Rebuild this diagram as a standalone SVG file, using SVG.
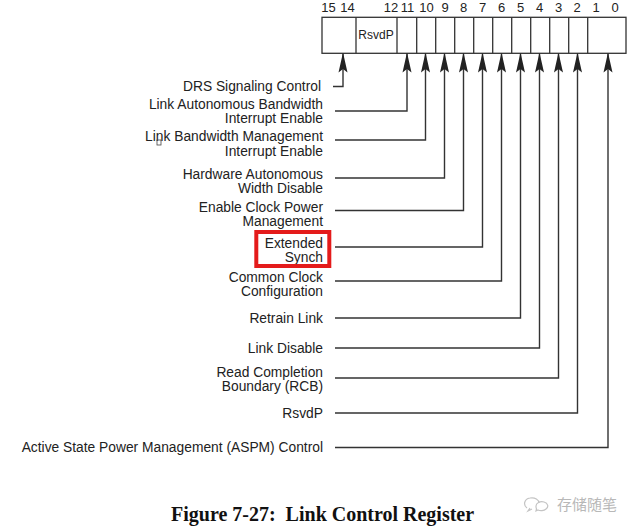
<svg xmlns="http://www.w3.org/2000/svg" width="640" height="531" viewBox="0 0 640 531">
<defs>
<style>
.lbl{font-family:"Liberation Sans",Arial,sans-serif;font-size:13.8px;fill:#222;text-anchor:end}
.bit{font-family:"Liberation Sans",Arial,sans-serif;font-size:13px;fill:#222;text-anchor:middle}
.cell{fill:#fff;stroke:#333;stroke-width:1.3}
.div{stroke:#333;stroke-width:1.3}
.conn{fill:none;stroke:#333;stroke-width:1.4}
.cap{font-family:"Liberation Serif","Times New Roman",serif;font-weight:bold;font-size:20px;fill:#111}
.wm{font-family:"Noto Sans CJK SC",sans-serif;font-size:15px;fill:#b8b8b8}
</style>
<marker id="arr" viewBox="0 0 20 10" refX="19" refY="5" markerWidth="20" markerHeight="10" markerUnits="userSpaceOnUse" orient="auto">
<path d="M20,5 L0,0.5 L3.5,5 L0,9.5 Z" fill="#222"/>
</marker>
</defs>
<rect width="640" height="531" fill="#fff"/>

<g id="register">
<rect class="cell" x="322" y="17.3" width="304" height="36"/>
<line class="div" x1="356" y1="17.3" x2="356" y2="53.3"/>
<line class="div" x1="397" y1="17.3" x2="397" y2="53.3"/>
<line class="div" x1="416.7" y1="17.3" x2="416.7" y2="53.3"/>
<line class="div" x1="435.7" y1="17.3" x2="435.7" y2="53.3"/>
<line class="div" x1="454.7" y1="17.3" x2="454.7" y2="53.3"/>
<line class="div" x1="473.7" y1="17.3" x2="473.7" y2="53.3"/>
<line class="div" x1="492.7" y1="17.3" x2="492.7" y2="53.3"/>
<line class="div" x1="511.7" y1="17.3" x2="511.7" y2="53.3"/>
<line class="div" x1="530.7" y1="17.3" x2="530.7" y2="53.3"/>
<line class="div" x1="549.7" y1="17.3" x2="549.7" y2="53.3"/>
<line class="div" x1="568.7" y1="17.3" x2="568.7" y2="53.3"/>
<line class="div" x1="587.7" y1="17.3" x2="587.7" y2="53.3"/>
<text x="376" y="39" style="font-family:'Liberation Sans',Arial,sans-serif;font-size:12px;fill:#222;text-anchor:middle">RsvdP</text>
<text class="bit" x="328.5" y="12">15</text>
<text class="bit" x="347.5" y="12">14</text>
<text class="bit" x="391" y="12">12</text>
<text class="bit" x="407.5" y="12">11</text>
<text class="bit" x="426.5" y="12">10</text>
<text class="bit" x="445" y="12">9</text>
<text class="bit" x="463.5" y="12">8</text>
<text class="bit" x="482.5" y="12">7</text>
<text class="bit" x="501.5" y="12">6</text>
<text class="bit" x="520.5" y="12">5</text>
<text class="bit" x="539.5" y="12">4</text>
<text class="bit" x="558.5" y="12">3</text>
<text class="bit" x="577" y="12">2</text>
<text class="bit" x="596" y="12">1</text>
<text class="bit" x="615" y="12">0</text>
</g>

<g id="connectors">
<path class="conn" marker-end="url(#arr)" d="M333,86.5 H343 V53.5"/>
<path class="conn" marker-end="url(#arr)" d="M335,111 H407 V53.5"/>
<path class="conn" marker-end="url(#arr)" d="M335,140 H425.5 V53.5"/>
<path class="conn" marker-end="url(#arr)" d="M335,178 H444.5 V53.5"/>
<path class="conn" marker-end="url(#arr)" d="M335,210.5 H463.5 V53.5"/>
<path class="conn" marker-end="url(#arr)" d="M335,247 H482.5 V53.5"/>
<path class="conn" marker-end="url(#arr)" d="M335,281 H501.5 V53.5"/>
<path class="conn" marker-end="url(#arr)" d="M335,318 H520.5 V53.5"/>
<path class="conn" marker-end="url(#arr)" d="M335,348 H539.5 V53.5"/>
<path class="conn" marker-end="url(#arr)" d="M335,378 H558.5 V53.5"/>
<path class="conn" marker-end="url(#arr)" d="M335,413 H577.5 V53.5"/>
<path class="conn" marker-end="url(#arr)" d="M335,447.5 H608 V53.5"/>
</g>

<g id="n-drs"><text class="lbl" x="321" y="91">DRS Signaling Control</text></g>
<g id="n-labie"><text class="lbl" x="323" y="109">Link Autonomous Bandwidth</text><text class="lbl" x="323" y="123">Interrupt Enable</text></g>
<g id="n-lbmie"><text class="lbl" x="323" y="141">Link Bandwidth Management</text><text class="lbl" x="323" y="156">Interrupt Enable</text><rect x="157" y="140" width="4" height="5" fill="none" stroke="#444" stroke-width="0.8"/></g>
<g id="n-hawd"><text class="lbl" x="323" y="179">Hardware Autonomous</text><text class="lbl" x="323" y="193">Width Disable</text></g>
<g id="n-ecpm"><text class="lbl" x="323" y="212">Enable Clock Power</text><text class="lbl" x="323" y="226">Management</text></g>
<g id="n-es"><text class="lbl" x="323" y="248">Extended</text><text class="lbl" x="323" y="262">Synch</text><rect x="256.3" y="232" width="73" height="34" fill="none" stroke="#e41b1b" stroke-width="4"/></g>
<g id="n-cc"><text class="lbl" x="323" y="282">Common Clock</text><text class="lbl" x="323" y="296">Configuration</text></g>
<g id="n-rl"><text class="lbl" x="323" y="323">Retrain Link</text></g>
<g id="n-ld"><text class="lbl" x="323" y="353">Link Disable</text></g>
<g id="n-rcb"><text class="lbl" x="323" y="377">Read Completion</text><text class="lbl" x="323" y="391">Boundary (RCB)</text></g>
<g id="n-rsvdp"><text class="lbl" x="323" y="418">RsvdP</text></g>
<g id="n-aspm"><text class="lbl" x="323" y="452">Active State Power Management (ASPM) Control</text></g>

<g id="caption"><text class="cap" x="171" y="521" xml:space="preserve">Figure 7-27:  Link Control Register</text></g>

<g id="watermark">
<path d="M527,508 c-4,-3 -3,-9 3,-10 c5,-1 9,2 9,5 M530,508 l-2,3 l4,-2" fill="none" stroke="#c4c4c4" stroke-width="1.2"/>
<path d="M536,506 c0,-3 4,-5 8,-4 c4,1 5,5 2,7 c-2,2 -6,2 -8,1 l-2,1 l0.5,-2 c-0.4,-1 -0.6,-2 -0.5,-3 z" fill="none" stroke="#c4c4c4" stroke-width="1.2"/>
<text class="wm" x="557" y="509.5">存储随笔</text>
</g>
</svg>
